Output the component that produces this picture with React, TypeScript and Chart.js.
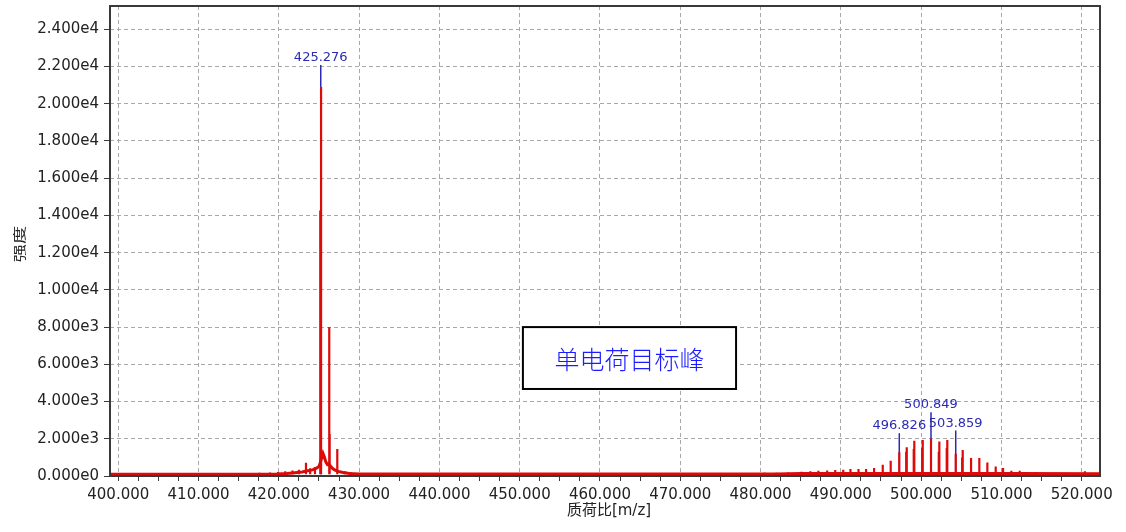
import React, { useEffect, useRef } from 'react';
import { Chart, registerables } from 'chart.js';

Chart.register(...registerables);

// ---------- axis ranges / ticks ----------
const X_MIN = 398.97;
const X_MAX = 522.28;
const Y_MIN = 0;
const Y_MAX = 25250;
const xMajorStep = 10;
const xTickValues = [400, 402.5, 405, 407.5, 410, 412.5, 415, 417.5, 420, 422.5, 425, 427.5, 430, 432.5, 435, 437.5, 440, 442.5, 445, 447.5, 450, 452.5, 455, 457.5, 460, 462.5, 465, 467.5, 470, 472.5, 475, 477.5, 480, 482.5, 485, 487.5, 490, 492.5, 495, 497.5, 500, 502.5, 505, 507.5, 510, 512.5, 515, 517.5, 520, 522.5];
const yTickValues = [0, 2000, 4000, 6000, 8000, 10000, 12000, 14000, 16000, 18000, 20000, 22000, 24000];

const xTitle = '质荷比[m/z]';
const yTitle = '强度';

// ---------- continuous baseline / hump profile ----------
const profileMz = [398.97, 419.8, 421.0, 422.0, 422.9, 423.6, 424.2, 424.7, 425.0, 425.12, 425.35, 425.5, 425.65, 425.85, 426.05, 426.2, 426.45, 426.7, 427.0, 427.4, 428.0, 428.8, 430.0, 482.0, 485.0, 512.0, 522.28];
const profileIntensity = [100, 110, 140, 180, 220, 280, 330, 420, 520, 650, 1000, 1215, 1050, 760, 620, 650, 520, 400, 320, 250, 190, 140, 110, 110, 140, 140, 120];

// ---------- peaks (sticks) ----------
const stickMz = [
  400.6, 401.8, 403.1, 404.4, 406.0, 407.5, 409.0, 410.6, 412.0, 413.3, 414.7, 416.2, 417.6, 418.9, 419.9, 420.8, 421.7, 422.5,
  423.38, 423.9, 424.5,
  425.16, 425.2, 425.26,
  426.28, 426.33, 427.28,
  428.2, 429.0, 430.4, 432.0, 433.9, 435.6, 437.4, 439.0, 441.5, 443.2, 445.0, 447.1, 449.0, 450.9, 452.6, 454.3, 456.2, 458.0,
  459.7, 461.5, 463.6, 465.8, 467.5, 469.2, 471.4, 473.2, 475.0, 476.9, 478.6, 480.5, 482.0, 483.4, 485.1,
  486.2, 487.2, 488.3, 489.3, 490.3, 491.2, 492.2, 493.14, 494.14, 495.22, 496.21,
  497.28, 498.14, 498.21, 499.08, 499.15, 500.13, 500.20, 501.23, 502.20, 502.27, 503.19, 503.26, 504.31,
  505.11, 505.18, 506.22, 507.25, 508.25, 509.29, 510.20, 511.24, 512.28, 514.3, 516.1, 518.0, 520.4, 521.6,
];
const stickHeight = [
  150, 130, 160, 120, 140, 130, 120, 150, 130, 160, 140, 150, 170, 190, 210, 250, 300, 340,
  715, 420, 480,
  14270, 14270, 20900,
  8000, 2260, 1450,
  260, 200, 160, 140, 150, 130, 150, 130, 140, 120, 150, 130, 150, 140, 130, 150, 140, 130,
  150, 140, 130, 150, 140, 130, 150, 140, 150, 140, 160, 170, 180, 190, 230,
  260, 280, 300, 320, 330, 376, 376, 376, 430, 608, 823,
  1270, 1300, 1540, 1450, 1900, 1500, 1937, 2000, 1300, 1860, 1500, 1937, 1200,
  1000, 1400, 970, 970, 730, 516, 430, 285, 285, 200, 160, 150, 250, 150,
];
const stickBase = 100;

// ---------- labelled peaks ----------
const labelText = ['425.276', '496.826', '500.849', '503.859'];
const labelMz = [425.22, 497.28, 501.23, 504.31];
const labelTop = [22075, 2290, 3420, 2440];

// ---------- annotation ----------
const annotationText = '单电荷目标峰';
const annotationMz = [450.4, 476.95];
const annotationInt = [8000, 4675];

const RED = '#dd0a0a';
const BLUE = '#2a2ab4';
const GRID = '#a8a8a8';
const AXIS = '#3a3a3a';
const TEXT = '#222222';
const LATIN = "'DejaVu Sans', 'Noto Sans CJK SC', sans-serif";
const CJK = "'Noto Sans CJK SC', sans-serif";

const isMajorX = (v: number) => Math.abs(v / xMajorStep - Math.round(v / xMajorStep)) < 1e-6;

const overlayPlugin = {
  id: 'overlay',
  afterDatasetsDraw(chart: any) {
    const { ctx, chartArea, scales } = chart;
    const xs = scales.x;
    const ys = scales.y;
    ctx.save();
    // frame
    ctx.strokeStyle = AXIS;
    ctx.lineWidth = 2;
    ctx.strokeRect(chartArea.left, chartArea.top, chartArea.right - chartArea.left, chartArea.bottom - chartArea.top);

    // peak labels
    ctx.fillStyle = BLUE;
    ctx.font = `13px ${LATIN}`;
    ctx.textAlign = 'center';
    ctx.textBaseline = 'alphabetic';
    for (let i = 0; i < labelText.length; i++) {
      const px = xs.getPixelForValue(labelMz[i]);
      const py = ys.getPixelForValue(labelTop[i]);
      ctx.fillText(labelText[i], px, py - 4);
    }

    // annotation box
    const bx1 = xs.getPixelForValue(annotationMz[0]);
    const bx2 = xs.getPixelForValue(annotationMz[1]);
    const by1 = ys.getPixelForValue(annotationInt[0]);
    const by2 = ys.getPixelForValue(annotationInt[1]);
    ctx.fillStyle = '#ffffff';
    ctx.fillRect(bx1, by1, bx2 - bx1, by2 - by1);
    ctx.strokeStyle = '#000000';
    ctx.lineWidth = 2;
    ctx.strokeRect(bx1, by1, bx2 - bx1, by2 - by1);
    ctx.fillStyle = '#1c1cff';
    ctx.font = `300 25px ${CJK}`;
    ctx.textAlign = 'center';
    ctx.textBaseline = 'middle';
    ctx.fillText(annotationText, (bx1 + bx2) / 2, (by1 + by2) / 2 + 1);

    // axis titles
    ctx.fillStyle = TEXT;
    ctx.font = `15px ${LATIN}`;
    ctx.textAlign = 'center';
    ctx.textBaseline = 'middle';
    ctx.fillText(xTitle, (chartArea.left + chartArea.right) / 2 + 4, 511);

    ctx.save();
    ctx.translate(19, 244);
    ctx.rotate(-Math.PI / 2);
    ctx.scale(1.4, 1);
    ctx.font = `13px ${CJK}`;
    ctx.fillText(yTitle, 0, 0);
    ctx.restore();

    ctx.restore();
  },
};

export default function App() {
  const ref = useRef<HTMLCanvasElement | null>(null);

  useEffect(() => {
    if (!ref.current) return;
    const profile = profileMz.map((m, i) => ({ x: m, y: profileIntensity[i] }));
    const sticks: any[] = [];
    stickMz.forEach((m, i) => {
      sticks.push({ x: m, y: stickBase });
      sticks.push({ x: m, y: stickHeight[i] });
      sticks.push({ x: m, y: null });
    });
    const markers: any[] = [];
    labelMz.forEach((m, i) => {
      markers.push({ x: m, y: stickBase });
      markers.push({ x: m, y: labelTop[i] });
      markers.push({ x: m, y: null });
    });

    const chart = new Chart(ref.current, {
      type: 'line',
      data: {
        datasets: [
          { data: sticks, borderColor: RED, borderWidth: 2.2, pointRadius: 0, spanGaps: false, tension: 0, order: 0 },
          { data: profile, borderColor: RED, borderWidth: 3, pointRadius: 0, tension: 0, order: 1 },
          { data: markers, borderColor: BLUE, borderWidth: 1.5, pointRadius: 0, spanGaps: false, tension: 0, order: 2 },
        ],
      },
      options: {
        animation: false,
        responsive: false,
        layout: { padding: { top: 6, left: 0, right: 26, bottom: 0 } },
        plugins: { legend: { display: false }, tooltip: { enabled: false } },
        scales: {
          x: {
            type: 'linear',
            min: X_MIN,
            max: X_MAX,
            afterFit: (s: any) => { s.height = 56; s.paddingLeft = 0; s.paddingRight = 0; },
            afterBuildTicks: (s: any) => {
              s.ticks = xTickValues.filter((v) => v >= X_MIN && v <= X_MAX).map((v) => ({ value: v }));
            },
            ticks: {
              autoSkip: false,
              maxRotation: 0,
              padding: 5,
              color: TEXT,
              font: { family: LATIN, size: 15 },
              callback: (v: any) => (isMajorX(Number(v)) ? Number(v).toFixed(3) : ''),
            },
            grid: {
              color: (c: any) => (c.tick && isMajorX(c.tick.value) ? GRID : 'rgba(0,0,0,0)'),
              tickColor: AXIS,
              tickLength: 5,
              lineWidth: 1,
            },
            border: { display: false, dash: [4, 3] },
          },
          y: {
            type: 'linear',
            min: Y_MIN,
            max: Y_MAX,
            afterFit: (s: any) => { s.width = 110; s.paddingTop = 0; s.paddingBottom = 0; },
            afterBuildTicks: (s: any) => {
              s.ticks = yTickValues.map((v) => ({ value: v }));
            },
            ticks: {
              autoSkip: false,
              padding: 5,
              color: TEXT,
              font: { family: LATIN, size: 15 },
              callback: (v: any) => Number(v).toExponential(3).replace('+', ''),
            },
            grid: { color: GRID, tickColor: AXIS, tickLength: 6, lineWidth: 1 },
            border: { display: false, dash: [4, 3] },
          },
        },
      },
      plugins: [overlayPlugin],
    } as any);
    return () => chart.destroy();
  }, []);

  return (
    <div style={{ position: 'absolute', left: 0, top: 0, width: 1126, height: 532, background: '#fff' }}>
      <canvas ref={ref} width={1126} height={532} style={{ width: 1126, height: 532, display: 'block' }} />
    </div>
  );
}
